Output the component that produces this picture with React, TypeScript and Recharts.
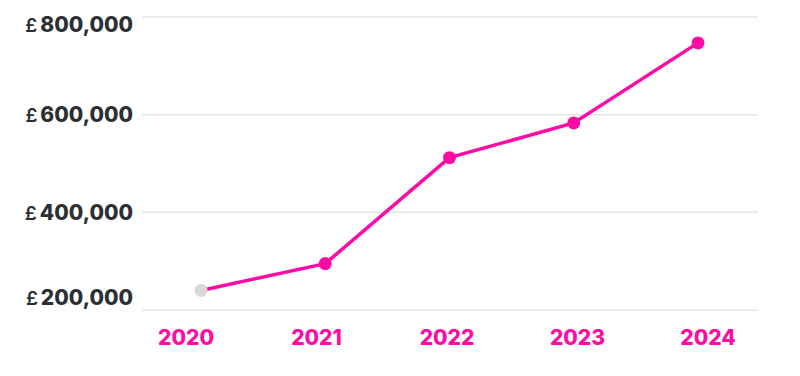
import { LineChart, Line, XAxis, YAxis, CartesianGrid } from 'recharts';

const years = ['2020', '2021', '2022', '2023', '2024'];
const values = [240000, 295000, 512000, 583000, 747000];
const yTicks = [200000, 400000, 600000, 800000];

const data = years.map((year, i) => ({ year, value: values[i] }));

const PINK = '#ff0aa5';
const INK = '#2b3035';

function YTick({ x, y, payload }: any) {
  // labels at the ends sit inside the grid
  const shift = payload.value === 800000 ? 7 : payload.value === 200000 ? -13 : 0;
  return (
    <text
      x={x}
      y={y + shift + 7.5}
      textAnchor="end"
      fill={INK}
      fontFamily="Inter"
      fontWeight={800}
      fontSize={21}
    >
      <tspan fontSize={19} fontWeight={600}>£</tspan>
      <tspan dx={3}>{payload.value.toLocaleString('en-GB')}</tspan>
    </text>
  );
}

function Dot({ cx, cy, index }: any) {
  return <circle key={index} cx={cx} cy={cy} r={6.5} fill={index === 0 ? '#d9d9d9' : PINK} />;
}

export default function App() {
  return (
    <LineChart width={784} height={360} data={data} margin={{ top: 9, right: 34, bottom: 18, left: 0 }}>
      <CartesianGrid xAxisId="line" vertical={false} stroke="#e6e6e6" strokeWidth={1.5} />
      <XAxis
        xAxisId="labels"
        dataKey="year"
        padding={{ left: 44, right: 50 }}
        axisLine={false}
        tickLine={false}
        tickSize={0}
        tickMargin={20}
        height={40}
        tick={{ fill: PINK, fontFamily: 'Inter', fontWeight: 800, fontSize: 21 }}
      />
      <XAxis xAxisId="line" dataKey="year" hide padding={{ left: 59, right: 60 }} />
      <YAxis
        width={134}
        domain={[200000, 800000]}
        ticks={yTicks}
        axisLine={false}
        tickLine={false}
        tickSize={0}
        tickMargin={9}
        tick={<YTick />}
      />
      <Line
        xAxisId="line"
        dataKey="value"
        stroke={PINK}
        strokeWidth={3.5}
        dot={<Dot />}
        activeDot={false}
        isAnimationActive={false}
      />
    </LineChart>
  );
}
